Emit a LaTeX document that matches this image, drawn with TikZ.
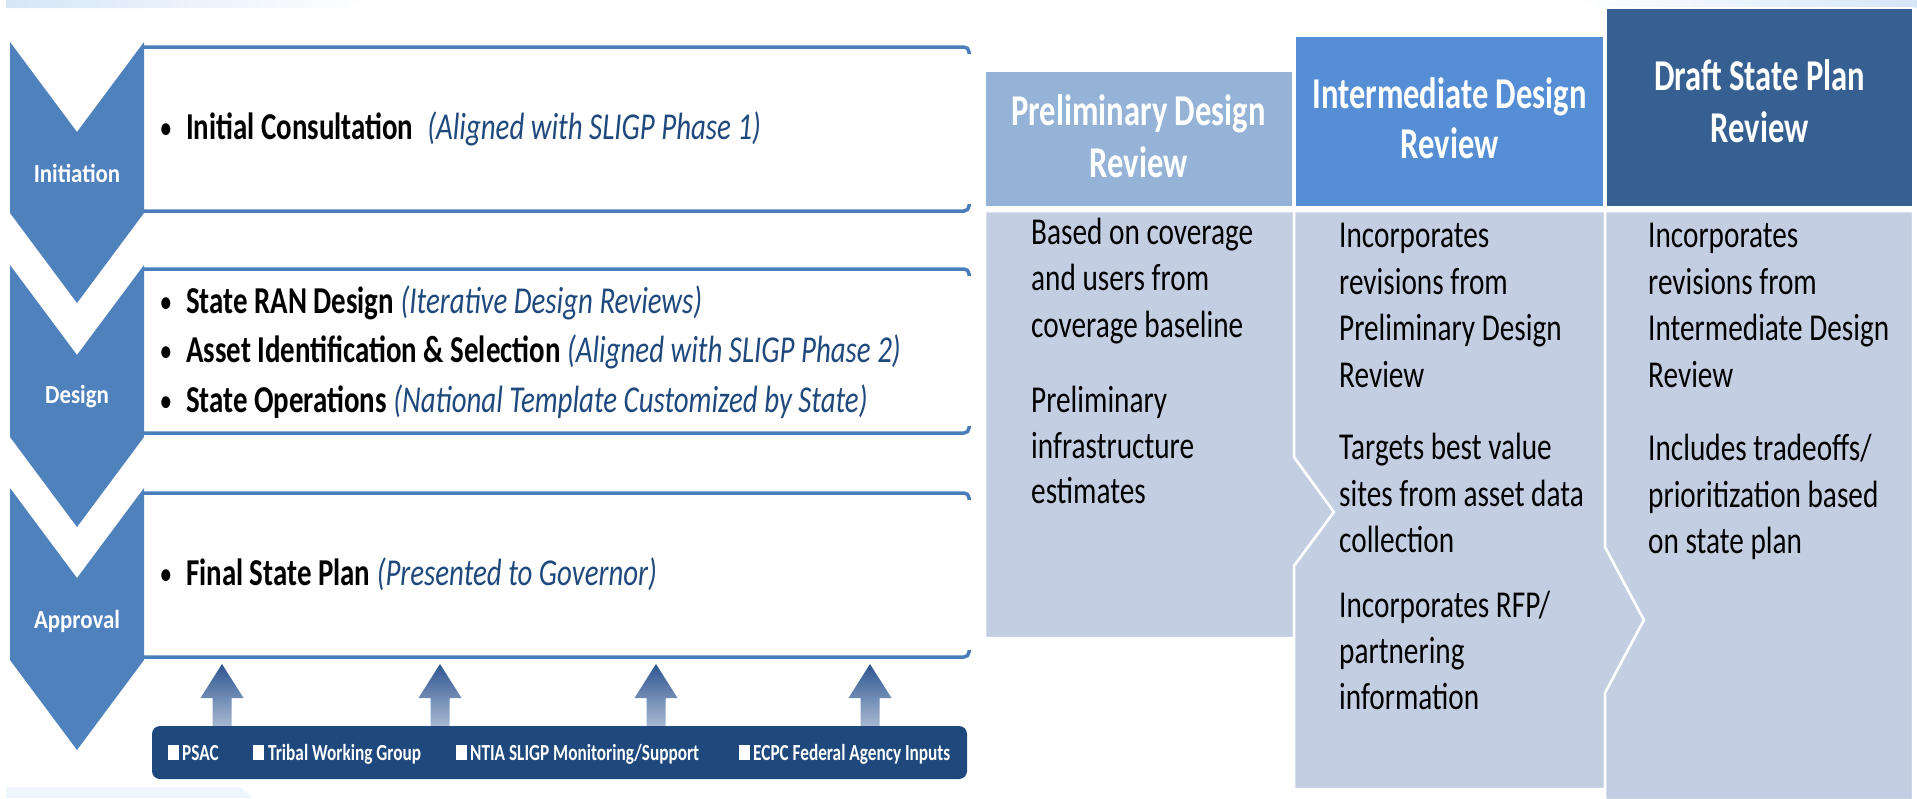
\documentclass[tikz,border=0pt]{standalone}
\usepackage{fontspec}
\setmainfont{Carlito}
\newfontfamily\fItem[FakeStretch=0.76]{Carlito}
\newfontfamily\fHdr[FakeStretch=0.74]{Carlito}
\newfontfamily\fBody[FakeStretch=0.77]{Carlito}
\newfontfamily\fChev[FakeStretch=0.88]{Carlito}
\newfontfamily\fBar[FakeStretch=0.75]{Carlito}
\definecolor{chevblue}{HTML}{4F81BD}
\definecolor{linecol}{HTML}{4A7EBB}
\definecolor{hdrA}{HTML}{95B3D7}
\definecolor{hdrB}{HTML}{558ED5}
\definecolor{hdrC}{HTML}{376092}
\definecolor{bodycol}{HTML}{C4CEE2}
\definecolor{barcol}{HTML}{1F497D}
\definecolor{notecol}{HTML}{1F497D}
\definecolor{arrtop}{HTML}{2E5590}
\definecolor{arrbot}{HTML}{A7B9D2}
\definecolor{bandcol}{HTML}{D6E6F7}
\newcommand\paren[1]{{\mdseries\itshape\color{notecol}#1}}
\newcommand\bul{\llap{\raisebox{2pt}{\fontsize{28}{28}\selectfont\textbullet}\hspace{15pt}}}
\begin{document}
\begin{tikzpicture}[x=1pt,y=-1pt,
  chevshape/.style={fill=chevblue, draw=none},
  chevlabel/.style={font=\fChev\bfseries\fontsize{26}{30}\selectfont, text=white, anchor=base, inner sep=0},
  boxline/.style={draw=linecol, line width=3.5pt, rounded corners=5pt},
  itemtxt/.style={font=\fItem\bfseries\fontsize{38}{44}\selectfont, anchor=base west, inner sep=0},
  hdrtxt/.style={font=\fHdr\bfseries\fontsize{44}{51}\selectfont, text=white, anchor=base, inner sep=0},
  bodytxt/.style={font=\fBody\fontsize{38}{46}\selectfont, anchor=base west, inner sep=0},
  cell/.style={draw=white, line width=2.5pt, line join=miter},
  upArrow/.style={top color=arrtop, bottom color=arrbot, draw=none},
  baritem/.style={font=\fBar\bfseries\fontsize{23}{26}\selectfont, text=white, anchor=base west, inner sep=0},
  barsq/.style={fill=white, draw=none}
]
\useasboundingbox (0,0) rectangle (1917,798);
\fill[white] (0,0) rectangle (1917,798);

% background fragments
\shade[left color=bandcol, right color=white] (6,0) -- (370,0) -- (345,8) -- (6,8) -- cycle;
\shade[left color=white, right color=bandcol] (1575,0) -- (1917,0) -- (1917,8) -- (1598,8) -- cycle;
\fill[bandcol!40] (6,787) -- (240,787) -- (253,798) -- (6,798) -- cycle;

% chevrons
\fill[chevshape] (10,42) -- (77,132) -- (144,42) -- (144,213) -- (77,303) -- (10,213) -- cycle;
\fill[chevshape] (10,265) -- (77,355) -- (144,265) -- (144,437) -- (77,527) -- (10,437) -- cycle;
\fill[chevshape] (10,488) -- (77,578) -- (144,488) -- (144,660) -- (77,750) -- (10,660) -- cycle;
\node[chevlabel] (initiation) at (77,182) {Initiation};
\node[chevlabel] (design) at (77,403) {Design};
\node[chevlabel] (approval) at (77,628) {Approval};

% boxes
\draw[boxline] (144,47) -- (969,47) -- (969,54);
\draw[boxline] (144,211) -- (969,211) -- (969,204);
\draw[boxline] (144,269) -- (969,269) -- (969,276);
\draw[boxline] (144,433) -- (969,433) -- (969,426);
\draw[boxline] (144,493) -- (969,493) -- (969,500);
\draw[boxline] (144,657) -- (969,657) -- (969,650);

\node[itemtxt] (i1) at (186,139) {\bul Initial Consultation\hspace{14pt}\paren{(Aligned with SLIGP Phase 1)}};
\node[itemtxt] (i2) at (186,313) {\bul State RAN Design \paren{(Iterative Design Reviews)}};
\node[itemtxt] (i3) at (186,362) {\bul Asset Identification \& Selection \paren{(Aligned with SLIGP Phase 2)}};
\node[itemtxt] (i4) at (186,412) {\bul State Operations \paren{(National Template Customized by State)}};
\node[itemtxt] (i5) at (186,585) {\bul Final State Plan \paren{(Presented to Governor)}};

% up arrows
\foreach \ax in {222,440,656,870}{
  \shade[upArrow] (\ax-9.5,726) -- (\ax-9.5,698) -- (\ax-21.5,698) -- (\ax,664) -- (\ax+21.5,698) -- (\ax+9.5,698) -- (\ax+9.5,726) -- cycle;
}

% bottom bar
\fill[barcol, rounded corners=8pt] (152,726) rectangle (967,779);
\fill[barsq] (168,745) rectangle (179,760);
\node[baritem] (psac) at (182,760) {PSAC};
\fill[barsq] (253,745) rectangle (264,760);
\node[baritem] (tribal) at (268,760) {Tribal Working Group};
\fill[barsq] (456,745) rectangle (467,760);
\node[baritem] (ntia) at (470,760) {NTIA SLIGP Monitoring/Support};
\fill[barsq] (739,745) rectangle (750,760);
\node[baritem] (ecpc) at (753,760) {ECPC Federal Agency Inputs};

% right table: headers
\fill[hdrA, cell] (985,71) rectangle (1293,207);
\fill[hdrB, cell] (1295,36) rectangle (1604,207);
\fill[hdrC, cell] (1606,8) rectangle (1913,207);
\node[hdrtxt] (h1a) at (1138.5,125) {Preliminary Design};
\node[hdrtxt] (h1b) at (1138.5,177) {Review};
\node[hdrtxt] (h2a) at (1449.5,108) {Intermediate Design};
\node[hdrtxt] (h2b) at (1449.5,158) {Review};
\node[hdrtxt] (h3a) at (1759.5,90) {Draft State Plan};
\node[hdrtxt] (h3b) at (1759.5,142) {Review};

% right table: bodies
\fill[bodycol, cell] (985,211) -- (1294,211) -- (1294,457) -- (1334,512) -- (1294,566) -- (1294,638) -- (985,638) -- cycle;
\fill[bodycol, cell] (1294,211) -- (1605,211) -- (1605,547) -- (1644,620) -- (1605,693) -- (1605,789) -- (1294,789) -- (1294,566) -- (1334,512) -- (1294,457) -- cycle;
\fill[bodycol, cell] (1605,211) -- (1913,211) -- (1913,800) -- (1605,800) -- (1605,693) -- (1644,620) -- (1605,547) -- cycle;

\node[bodytxt] (c1l1) at (1031,244) {Based on coverage};
\node[bodytxt] (c1l2) at (1031,290.5) {and users from};
\node[bodytxt] (c1l3) at (1031,337) {coverage baseline};
\node[bodytxt] (c1l4) at (1031,412) {Preliminary};
\node[bodytxt] (c1l5) at (1031,458) {infrastructure};
\node[bodytxt] (c1l6) at (1031,503) {estimates};

\node[bodytxt] (c2l1) at (1339,247.5) {Incorporates};
\node[bodytxt] (c2l2) at (1339,294) {revisions from};
\node[bodytxt] (c2l3) at (1339,340.5) {Preliminary Design};
\node[bodytxt] (c2l4) at (1339,387) {Review};
\node[bodytxt] (c2l5) at (1339,459) {Targets best value};
\node[bodytxt] (c2l6) at (1339,506) {sites from asset data};
\node[bodytxt] (c2l7) at (1339,552) {collection};
\node[bodytxt] (c2l8) at (1339,617) {Incorporates RFP/};
\node[bodytxt] (c2l9) at (1339,663.5) {partnering};
\node[bodytxt] (c2l10) at (1339,709) {information};

\node[bodytxt] (c3l1) at (1648,247.5) {Incorporates};
\node[bodytxt] (c3l2) at (1648,294) {revisions from};
\node[bodytxt] (c3l3) at (1648,340.5) {Intermediate Design};
\node[bodytxt] (c3l4) at (1648,387) {Review};
\node[bodytxt] (c3l5) at (1648,460) {Includes tradeoffs/};
\node[bodytxt] (c3l6) at (1648,507) {prioritization based};
\node[bodytxt] (c3l7) at (1648,553) {on state plan};
\end{tikzpicture}
\end{document}
